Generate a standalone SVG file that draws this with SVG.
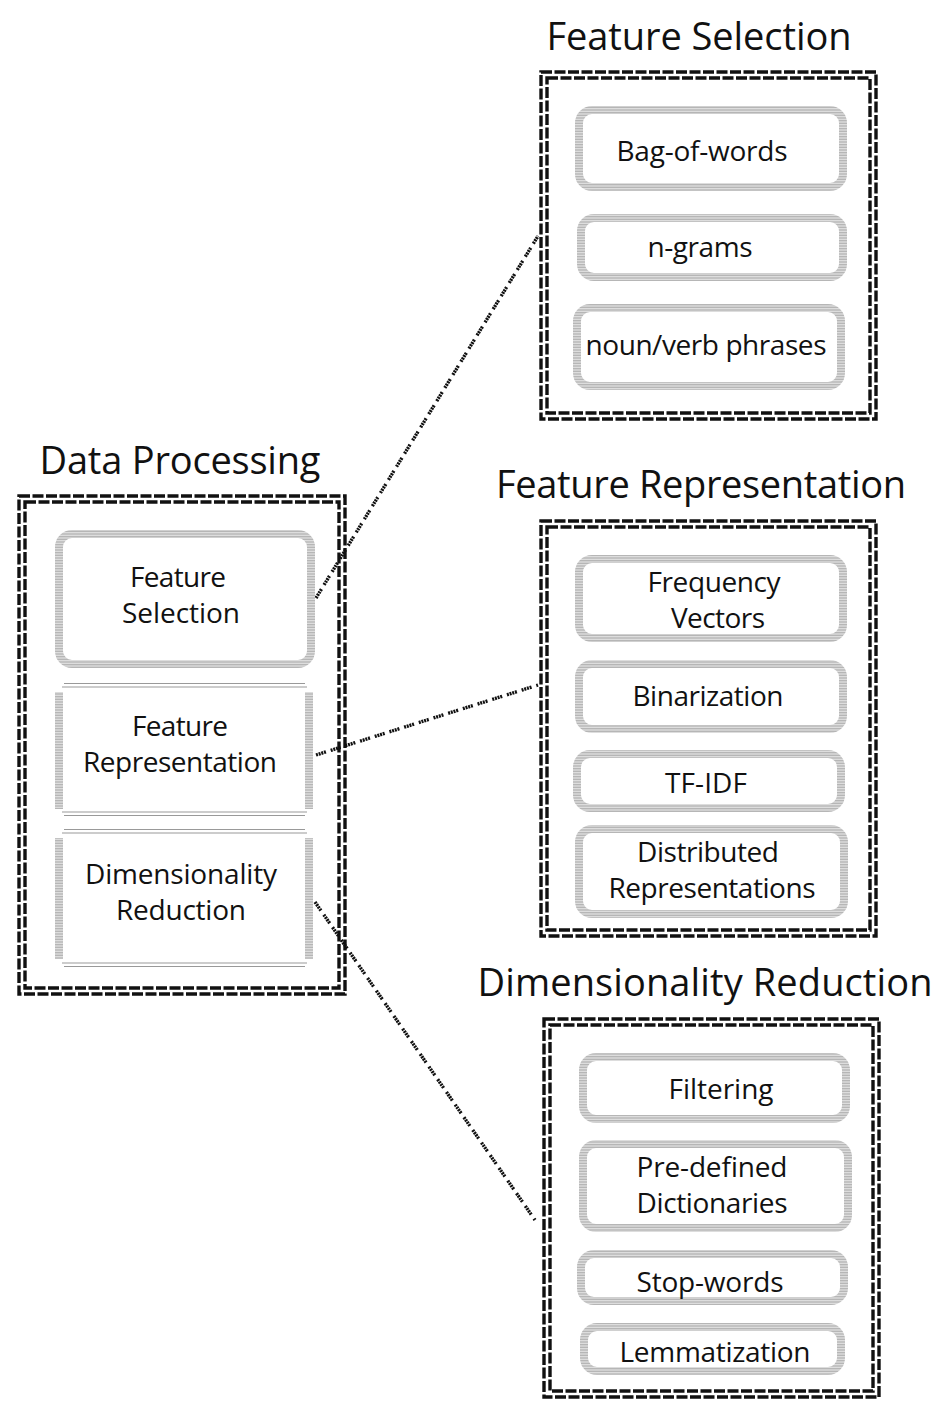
<svg xmlns="http://www.w3.org/2000/svg" width="944" height="1403" viewBox="0 0 944 1403">
<defs>
<pattern id="hatch" patternUnits="userSpaceOnUse" width="4" height="1.6">
<rect width="4" height="1.6" fill="#e4e4e4"/>
<rect width="4" height="0.7" fill="#a8a8a8"/>
</pattern>
</defs>
<style>
.outer{fill:none;stroke:#111;stroke-width:3.4;stroke-dasharray:11 2.5}
.inner{fill:#fff;stroke:url(#hatch);stroke-width:8}
.thin{stroke:#999;stroke-width:1.2;fill:none}
.side{fill:url(#hatch)}
.title{font-family:"Open Sans","Noto Sans",sans-serif;font-size:38px;fill:#111;text-anchor:middle}
.lbl{font-family:"Open Sans","Noto Sans",sans-serif;font-size:28px;fill:#111;text-anchor:middle}
.conn{fill:none;stroke:#111;stroke-width:3.4;stroke-dasharray:2 0.8 2 0.8 2 0.8 2 5}
</style>
<rect width="944" height="1403" fill="#fff"/>

<g id="connectors">
<line class="conn" x1="316" y1="598" x2="538" y2="236"/>
<line class="conn" x1="316" y1="755" x2="538" y2="685"/>
<line class="conn" x1="315" y1="902" x2="535" y2="1220"/>
</g>

<g id="data-processing">
<text class="title" x="180" y="474" textLength="281">Data Processing</text>
<rect class="outer" x="19" y="496" width="326" height="498"/>
<rect class="outer" x="25" y="502" width="314" height="486"/>
<g id="dp-feature-selection">
<rect class="inner" x="59" y="534" width="252" height="130" rx="13"/>
<text class="lbl" x="178" y="587" textLength="96">Feature</text>
<text class="lbl" x="181" y="623" textLength="118">Selection</text>
</g>
<g id="dp-feature-representation">
<line class="thin" x1="64" y1="683.5" x2="305" y2="683.5"/>
<line class="thin" x1="62" y1="687" x2="307" y2="687"/>
<rect class="side" x="55" y="692" width="8" height="117"/>
<rect class="side" x="305" y="692" width="8" height="117"/>
<line class="thin" x1="62" y1="812" x2="307" y2="812"/>
<line class="thin" x1="64" y1="815.5" x2="305" y2="815.5"/>
<text class="lbl" x="180" y="736" textLength="96">Feature</text>
<text class="lbl" x="180" y="772" textLength="194">Representation</text>
</g>
<g id="dp-dimensionality-reduction">
<line class="thin" x1="64" y1="829.5" x2="305" y2="829.5"/>
<line class="thin" x1="62" y1="833" x2="307" y2="833"/>
<rect class="side" x="55" y="838" width="8" height="121"/>
<rect class="side" x="305" y="838" width="8" height="121"/>
<line class="thin" x1="62" y1="963" x2="307" y2="963"/>
<line class="thin" x1="64" y1="966.5" x2="305" y2="966.5"/>
<text class="lbl" x="181" y="884" textLength="192">Dimensionality</text>
<text class="lbl" x="181" y="920" textLength="130">Reduction</text>
</g>
</g>

<g id="feature-selection">
<text class="title" x="699" y="50" textLength="305">Feature Selection</text>
<rect class="outer" x="541" y="72" width="335" height="347"/>
<rect class="outer" x="547" y="78" width="323" height="335"/>
<g id="bag-of-words">
<rect class="inner" x="579" y="110" width="264" height="77" rx="13"/>
<text class="lbl" x="702" y="161" textLength="171">Bag-of-words</text>
</g>
<g id="n-grams">
<rect class="inner" x="581" y="218" width="262" height="59" rx="13"/>
<text class="lbl" x="700" y="257" textLength="105">n-grams</text>
</g>
<g id="noun-verb-phrases">
<rect class="inner" x="577" y="308" width="264" height="78" rx="13"/>
<text class="lbl" x="706" y="355" textLength="241">noun/verb phrases</text>
</g>
</g>

<g id="feature-representation">
<text class="title" x="701" y="498" textLength="410">Feature Representation</text>
<rect class="outer" x="541" y="521" width="335" height="415"/>
<rect class="outer" x="547" y="527" width="323" height="403"/>
<g id="frequency-vectors">
<rect class="inner" x="579" y="559" width="264" height="79" rx="13"/>
<text class="lbl" x="714" y="592" textLength="133">Frequency</text>
<text class="lbl" x="718" y="628" textLength="94">Vectors</text>
</g>
<g id="binarization">
<rect class="inner" x="579" y="664" width="264" height="65" rx="13"/>
<text class="lbl" x="708" y="706" textLength="151">Binarization</text>
</g>
<g id="tf-idf">
<rect class="inner" x="577" y="754" width="264" height="54" rx="13"/>
<text class="lbl" x="706" y="793" textLength="82">TF-IDF</text>
</g>
<g id="distributed-representations">
<rect class="inner" x="579" y="829" width="265" height="85" rx="13"/>
<text class="lbl" x="708" y="862" textLength="142">Distributed</text>
<text class="lbl" x="712" y="898" textLength="207">Representations</text>
</g>
</g>

<g id="dimensionality-reduction">
<text class="title" x="705" y="996" textLength="455">Dimensionality Reduction</text>
<rect class="outer" x="544" y="1019" width="335" height="378"/>
<rect class="outer" x="550" y="1025" width="323" height="366"/>
<g id="filtering">
<rect class="inner" x="583" y="1057" width="263" height="62" rx="13"/>
<text class="lbl" x="721" y="1099" textLength="105">Filtering</text>
</g>
<g id="pre-defined-dictionaries">
<rect class="inner" x="583" y="1144" width="265" height="84" rx="13"/>
<text class="lbl" x="712" y="1177" textLength="151">Pre-defined</text>
<text class="lbl" x="712" y="1213" textLength="151">Dictionaries</text>
</g>
<g id="stop-words">
<rect class="inner" x="581" y="1254" width="263" height="47" rx="13"/>
<text class="lbl" x="710" y="1292" textLength="147">Stop-words</text>
</g>
<g id="lemmatization">
<rect class="inner" x="584" y="1327" width="257" height="44" rx="13"/>
<text class="lbl" x="715" y="1362" textLength="191">Lemmatization</text>
</g>
</g>
</svg>
